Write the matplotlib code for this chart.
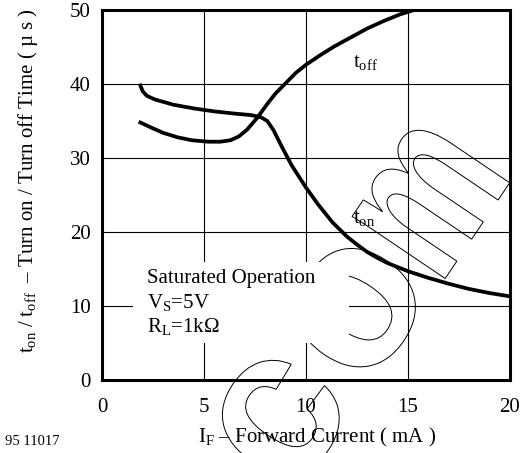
import matplotlib
matplotlib.use("Agg")
import matplotlib.pyplot as plt
from matplotlib.patches import Rectangle, PathPatch
from matplotlib.textpath import TextPath
from matplotlib.font_manager import FontProperties
from matplotlib.transforms import Affine2D

# Data
t_on_x = [1.88, 2.0, 2.2, 2.6, 3.5, 4.5, 5.5, 6.5, 7.3, 7.8, 8.1, 8.4, 8.8, 9.3,
          10.0, 10.6, 11.3, 12.0, 12.5, 13.0, 13.5, 14.0, 15.0, 16.0, 17.0, 18.0, 19.0, 20.0]
t_on_y = [39.8, 39.0, 38.4, 37.9, 37.2, 36.7, 36.3, 36.0, 35.8, 35.5, 35.0, 33.8, 31.6, 29.0,
          26.0, 23.7, 21.3, 19.4, 18.3, 17.3, 16.5, 15.8, 14.7, 13.8, 13.0, 12.3, 11.75, 11.3]

t_off_x = [1.88, 2.5, 3.0, 3.7, 4.4, 5.2, 5.8, 6.3, 6.7, 7.1, 7.6, 8.1, 8.5, 9.0,
           9.5, 10.0, 10.7, 11.4, 12.2, 13.0, 13.8, 14.6, 15.3]
t_off_y = [34.8, 34.0, 33.4, 32.8, 32.4, 32.2, 32.2, 32.4, 32.9, 33.8, 35.4, 37.3, 38.7, 40.1,
           41.5, 42.6, 43.9, 45.1, 46.3, 47.5, 48.5, 49.4, 50.0]

x_ticks = [0, 5, 10, 15, 20]
y_ticks = [0, 10, 20, 30, 40, 50]

# watermark letters: char, centre x px, centre y px from top, width squeeze
wm_chars = ['c', 'o', 'm']
wm_cx = [280, 356, 430]
wm_cy = [418, 308, 199]
wm_sx = [1.0, 1.0, 0.72]

plt.rcParams['font.family'] = ['Liberation Serif', 'DejaVu Serif']
plt.rcParams['mathtext.fontset'] = 'custom'
plt.rcParams['mathtext.rm'] = 'Liberation Serif'
plt.rcParams['mathtext.it'] = 'Liberation Serif:italic'

W, H = 528, 453
fig = plt.figure(figsize=(W/100, H/100), dpi=100)
ax = fig.add_axes([102/W, 1-380/H, 408/W, 370/H])

ax.set_xlim(0, 20)
ax.set_ylim(0, 50)
ax.set_xticks(x_ticks)
ax.set_yticks(y_ticks)
ax.tick_params(axis='x', length=0, labelsize=15, pad=13)
ax.tick_params(axis='y', length=0, labelsize=15, pad=8)
ax.grid(True, color='black', linewidth=0.8)
ax.set_axisbelow(True)
for s in ax.spines.values():
    s.set_linewidth(2.2)

# outlined watermark "com"
wm_font = FontProperties(family='Liberation Sans', weight='bold')
o_path = TextPath((0, 0), 'o', size=1, prop=wm_font)
o_ext = o_path.get_extents()
wm_size = 116 / o_ext.height
for ch, cx, cy, sx in zip(wm_chars, wm_cx, wm_cy, wm_sx):
    tp = TextPath((0, 0), ch, size=wm_size, prop=wm_font)
    e = tp.get_extents()
    tr = (Affine2D().translate(-(e.x0 + e.x1) / 2, -(e.y0 + e.y1) / 2).scale(sx, 1)
          .rotate_deg(56).translate(cx, H - cy).scale(1/100) + fig.dpi_scale_trans)
    ax.add_patch(PathPatch(tp, transform=tr, facecolor='none', edgecolor='black',
                           linewidth=0.7, clip_on=False, zorder=1.5))

ax.add_patch(Rectangle((1.52, 5.0), 10.6, 10.9, facecolor='white', edgecolor='none', zorder=2))

ax.plot(t_on_x, t_on_y, color='black', linewidth=2.7, zorder=3)
ax.plot(t_off_x, t_off_y, color='black', linewidth=2.7, zorder=3)

ax.text(12.3, 42.3, r'$\mathrm{t_{off}}$', fontsize=15, zorder=4)
ax.text(12.3, 21.2, r'$\mathrm{t_{on}}$', fontsize=15, zorder=4)

ax.text(2.2, 13.1, 'Saturated Operation', fontsize=15, zorder=4)
ax.text(2.2, 9.7, r'$\mathrm{V_S}$=5V', fontsize=15, zorder=4)
ax.text(2.2, 6.5, r'$\mathrm{R_L}$=1k$\Omega$', fontsize=15, zorder=4)

ax.set_xlabel(r'$\mathrm{I_F}$ – Forward Current ( mA )', fontsize=15)
ax.xaxis.set_label_coords(0.527, -0.125)
ax.set_ylabel(r'$\mathrm{t_{on}\ /\ t_{off}}$  – Turn on / Turn off Time ( µ s )', fontsize=15)
ax.yaxis.set_label_coords(-0.153, 0.54)

fig.text(5/W, 1-445/H, '95 11017', fontsize=10.5)

fig.savefig('out.png', dpi=100)
